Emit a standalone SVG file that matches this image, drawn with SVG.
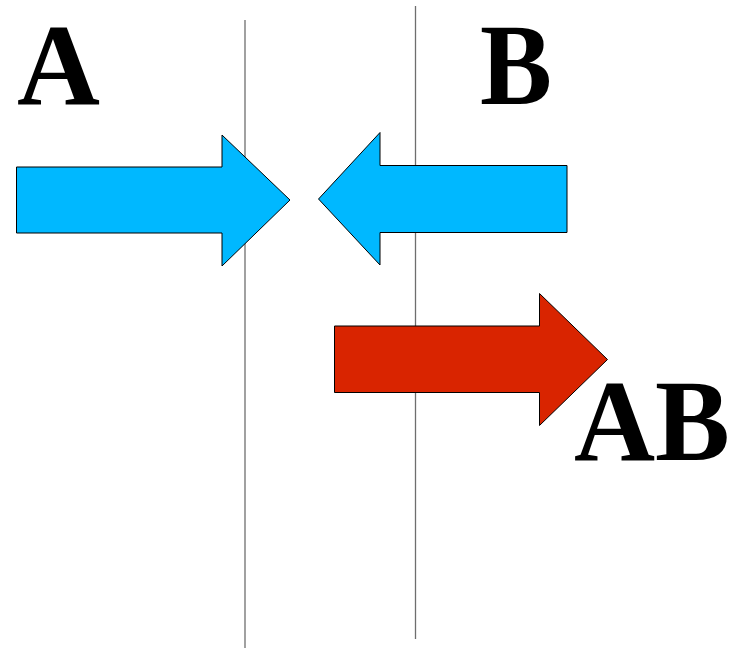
<svg xmlns="http://www.w3.org/2000/svg" width="734" height="648" viewBox="0 0 734 648">
  <style>
    .divider { stroke: #6e6e6e; stroke-width: 1.3; fill: none; }
    .arrow { stroke: #000; stroke-width: 1; stroke-linejoin: miter; }
    .blue { fill: #00b8ff; }
    .red { fill: #d92400; }
    .label { font-family: "Liberation Serif", "Times New Roman", serif; font-weight: bold; font-size: 116px; fill: #000; }
  </style>
  <rect width="734" height="648" fill="#fff"/>

  <g id="dividers">
    <line class="divider" x1="245" y1="20" x2="245" y2="648"/>
    <line class="divider" x1="415.5" y1="6" x2="415.5" y2="639"/>
  </g>

  <g id="connectors">
    <g id="arrow-a">
      <polygon class="arrow blue" points="16.5,167 222,167 222,135 290,200 222,266 222,233 16.5,233"/>
    </g>
    <g id="arrow-b">
      <polygon class="arrow blue" points="567,165.5 380,165.5 380,132.5 318.5,199 380,265 380,232.5 567,232.5"/>
    </g>
    <g id="arrow-ab">
      <polygon class="arrow red" points="334.5,326 539.5,326 539.5,293.5 607.5,359.5 539.5,425.5 539.5,392.5 334.5,392.5"/>
    </g>
  </g>

  <g id="label-a">
    <text class="label" x="17" y="104" textLength="83" lengthAdjust="spacingAndGlyphs">A</text>
  </g>
  <g id="label-b">
    <text class="label" x="480" y="104" textLength="72" lengthAdjust="spacingAndGlyphs">B</text>
  </g>
  <g id="label-ab">
    <text class="label" x="574" y="460" textLength="156" lengthAdjust="spacingAndGlyphs">AB</text>
  </g>
</svg>
